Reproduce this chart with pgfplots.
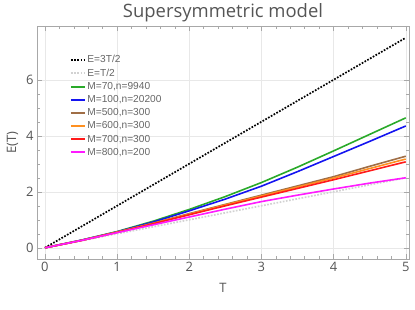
\documentclass[border=0pt]{standalone}
\usepackage{pgfplots}
\pgfplotsset{compat=1.18}
\usepackage{fontspec}
\setmainfont{Open Sans}
\newfontfamily\legfont{Liberation Sans}
\definecolor{txt}{HTML}{555555}
\definecolor{ltxt}{HTML}{666666}
\definecolor{frm}{HTML}{A8A8A8}
\definecolor{cgreen}{HTML}{2AAA2A}
\definecolor{cblue}{HTML}{1414F0}
\definecolor{cbrown}{HTML}{A06E46}
\definecolor{corange}{HTML}{FF9020}
\definecolor{cred}{HTML}{FF1A1A}
\definecolor{cmag}{HTML}{FF1AFF}
\begin{document}
\begin{tikzpicture}
\begin{axis}[
  scale only axis, width=372bp, height=233bp,
  xmin=-0.11, xmax=5.045, ymin=-0.4, ymax=7.92,
  xtick={0,1,2,3,4,5}, ytick={0,2,4,6},
  minor x tick num=4, minor y tick num=3,
  tick align=inside, major tick length=5bp, minor tick length=3bp,
  tick style={frm, line width=0.5pt},
  axis line style={frm, line width=0.8pt},
  grid=major, major grid style={gray!18, line width=0.5pt},
  /pgf/number format/assume math mode=true,
  ticklabel style={font=\fontsize{13}{15}\selectfont, text=txt},
  xlabel={T}, ylabel={E(T)},
  label style={font=\fontsize{13}{15}\selectfont, text=txt},
  xlabel style={yshift=-4bp},
  ylabel style={yshift=1bp},
  title={Supersymmetric model},
  title style={font=\fontsize{18.5}{20}\selectfont, text=txt, yshift=-5.5bp},
  legend style={draw=none, fill=none, at={(0.08,0.89)}, anchor=north west,
    font=\legfont\fontsize{10.2}{11.5}\selectfont,
    row sep=1.6bp, nodes={inner sep=1.5bp}},
  legend cell align=left,
  legend image code/.code={\draw[#1, line width=2pt] plot coordinates {(0bp,0bp) (7bp,0bp) (14bp,0bp)};},
]
\addplot[black, line width=1.7pt, dash pattern=on 1.7pt off 1.5pt] coordinates {(0,0) (5,7.5)};
\addlegendentry{\textcolor{ltxt}{E=3T/2}}
\addplot[gray!35, line width=1.7pt, dash pattern=on 1.7pt off 1.5pt] coordinates {(0,0) (5,2.5)};
\addlegendentry{\textcolor{ltxt}{E=T/2}}
\addplot[cgreen, line width=1.6pt] coordinates {(0,0) (0.5,0.27) (1,0.58) (1.5,0.95) (2,1.37) (2.5,1.83) (3,2.33) (3.5,2.88) (4,3.46) (4.5,4.05) (5,4.64)};
\addlegendentry{\textcolor{ltxt}{M=70,n=9940}}
\addplot[cblue, line width=1.6pt] coordinates {(0,0) (0.5,0.27) (1,0.57) (1.5,0.92) (2,1.32) (2.5,1.74) (3,2.2) (3.5,2.72) (4,3.26) (4.5,3.8) (5,4.35)};
\addlegendentry{\textcolor{ltxt}{M=100,n=20200}}
\addplot[cbrown, line width=1.6pt] coordinates {(0,0) (0.5,0.26) (1,0.56) (1.5,0.88) (2,1.22) (2.5,1.55) (3,1.88) (3.5,2.21) (4,2.54) (4.5,2.91) (5,3.27)};
\addlegendentry{\textcolor{ltxt}{M=500,n=300}}
\addplot[corange, line width=1.6pt] coordinates {(0,0) (0.5,0.26) (1,0.56) (1.5,0.87) (2,1.2) (2.5,1.53) (3,1.85) (3.5,2.17) (4,2.49) (4.5,2.83) (5,3.17)};
\addlegendentry{\textcolor{ltxt}{M=600,n=300}}
\addplot[cred, line width=1.6pt] coordinates {(0,0) (0.5,0.26) (1,0.55) (1.5,0.86) (2,1.18) (2.5,1.5) (3,1.81) (3.5,2.12) (4,2.43) (4.5,2.75) (5,3.07)};
\addlegendentry{\textcolor{ltxt}{M=700,n=300}}
\addplot[cmag, line width=1.6pt] coordinates {(0,0) (0.5,0.26) (1,0.54) (1.5,0.82) (2,1.1) (2.5,1.38) (3,1.65) (3.5,1.88) (4,2.1) (4.5,2.31) (5,2.5)};
\addlegendentry{\textcolor{ltxt}{M=800,n=200}}
\end{axis}
\pgfresetboundingbox
\path ([shift={(-37bp,-51bp)}]current axis.south west) rectangle ([shift={(6bp,26bp)}]current axis.north east);
\end{tikzpicture}
\end{document}
